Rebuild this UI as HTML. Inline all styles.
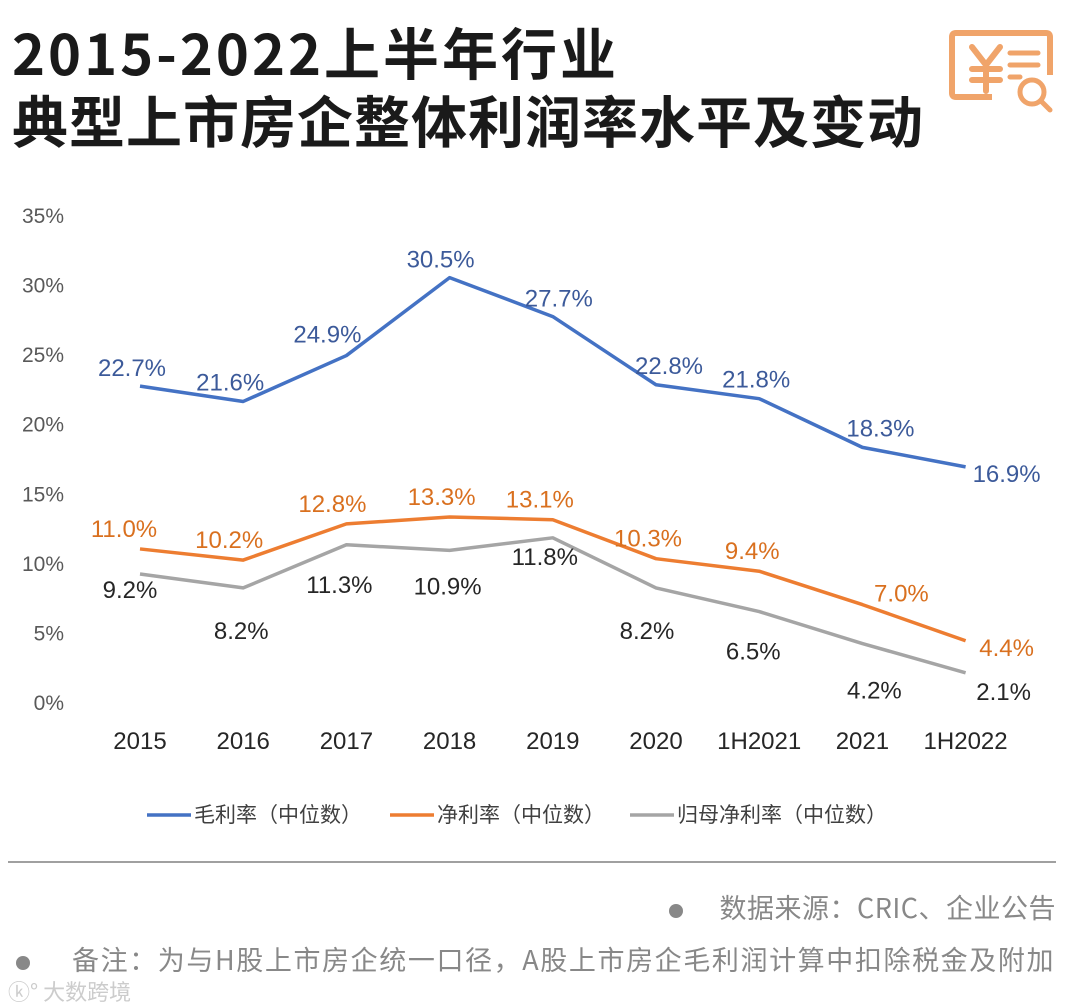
<!DOCTYPE html>
<html><head><meta charset="utf-8">
<style>
body{margin:0;background:#fff;width:1080px;height:1007px;overflow:hidden;font-family:"Liberation Sans","Noto Sans CJK SC",sans-serif;}
.title{position:absolute;left:12px;font-weight:bold;font-size:56px;letter-spacing:1px;color:#1a1a1a;font-family:"Noto Sans CJK SC","Liberation Sans",sans-serif;line-height:1;white-space:nowrap;}
</style></head><body>
<div class="title" style="top:24px;letter-spacing:3px">2015-2022上半年行业</div>
<div class="title" style="top:92px">典型上市房企整体利润率水平及变动</div>
<svg style="position:absolute;left:942px;top:25px" width="120" height="90" viewBox="0 0 120 90">
<path d="M50 72 H14 Q10 72 10 68 V12 Q10 8 14 8 H104 Q108 8 108 12 V50" fill="none" stroke="#f0a46a" stroke-width="6"/>
<path d="M30 22 L44 40 L58 22 M44 40 V66 M30 44 H58 M30 55 H58" fill="none" stroke="#f0a46a" stroke-width="6" stroke-linecap="round"/>
<path d="M68 28 H96 M68 40 H96 M68 52 H78" stroke="#f0a46a" stroke-width="5" stroke-linecap="round"/>
<circle cx="90" cy="67" r="12" fill="#fff" stroke="#f0a46a" stroke-width="5"/>
<path d="M99 76 L108 85" stroke="#f0a46a" stroke-width="5" stroke-linecap="round"/>
</svg>
<svg id="chart" style="position:absolute;left:0;top:0" width="1080" height="860"></svg>
<div style="position:absolute;left:8px;top:861px;width:1048px;height:2px;background:#a0a0a0"></div>
<div style="position:absolute;right:24px;top:891px;font-size:27px;letter-spacing:0.5px;color:#888;font-family:'Noto Sans CJK SC',sans-serif;line-height:1.2;white-space:nowrap"><span style="display:inline-block;width:14px;height:14px;border-radius:50%;background:#888;margin-right:36px;vertical-align:middle"></span>数据来源：CRIC、企业公告</div>
<div style="position:absolute;left:16px;top:943px;font-size:27px;letter-spacing:1.6px;color:#888;font-family:'Noto Sans CJK SC',sans-serif;line-height:1.2;white-space:nowrap"><span style="display:inline-block;width:14px;height:14px;border-radius:50%;background:#888;margin-right:42px;vertical-align:middle"></span>备注：为与H股上市房企统一口径，A股上市房企毛利润计算中扣除税金及附加</div>
<div style="position:absolute;left:8px;top:975px;font-size:22px;color:#ccc;font-family:'Noto Sans CJK SC',sans-serif">ⓚ° 大数跨境</div>
<script>
const categories=["2015","2016","2017","2018","2019","2020","1H2021","2021","1H2022"];
const grossMargin=[22.7,21.6,24.9,30.5,27.7,22.8,21.8,18.3,16.9];
const netMargin=[11.0,10.2,12.8,13.3,13.1,10.3,9.4,7.0,4.4];
const parentNetMargin=[9.2,8.2,11.3,10.9,11.8,8.2,6.5,4.2,2.1];
const yTicks=[0,5,10,15,20,25,30,35];
const NS="http://www.w3.org/2000/svg";
const svg=document.getElementById('chart');
const x=i=>140+i*103.2;
const y=v=>702-v*13.914;
function mk(t,a,txt){const e=document.createElementNS(NS,t);for(const k in a)e.setAttribute(k,a[k]);if(txt!=null)e.textContent=txt;svg.appendChild(e);return e;}
yTicks.forEach(v=>{const t=mk('text',{x:64,y:y(v)+8,'text-anchor':'end','font-size':21,fill:'#595959'},v+'%');

});
categories.forEach((c,i)=>{const t=mk('text',{x:x(i),y:749,'text-anchor':'middle','font-size':24,fill:'#262626'},c);

});
const series=[
 {d:grossMargin,c:'#4472c4',lc:'#3c5a9a',name:'gross-margin',off:[[-8,-18],[-13,-19],[-19,-21],[-9,-18],[6,-18],[13,-19],[-3,-19],[18,-19],[41,7]]},
 {d:netMargin,c:'#ed7d31',lc:'#d9701f',name:'net-margin',off:[[-16,-20],[-14,-20],[-14,-20],[-8,-20],[-13,-20],[-8,-20],[-7,-20],[39,-11],[41,7]]},
 {d:parentNetMargin,c:'#a5a5a5',lc:'#262626',name:'parent-net-margin',off:[[-10,16],[-2,43],[-7,40],[-2,36],[-8,19],[-9,43],[-6,40],[12,47],[38,19]]}
];
series.forEach(s=>{
 const p=mk('polyline',{points:s.d.map((v,i)=>x(i)+','+y(v)).join(' '),fill:'none',stroke:s.c,'stroke-width':3.5,'stroke-linejoin':'round'});
 
 
 s.d.forEach((v,i)=>{const t=mk('text',{x:x(i)+s.off[i][0],y:y(v)+s.off[i][1]+8,'text-anchor':'middle','font-size':24,fill:s.lc},v.toFixed(1)+'%');
 
 });
});
const leg=[[147,'#4472c4','毛利率（中位数）'],[390,'#ed7d31','净利率（中位数）'],[630,'#a5a5a5','归母净利率（中位数）']];
leg.forEach(l=>{const ln=mk('line',{x1:l[0],y1:815,x2:l[0]+44,y2:815,stroke:l[1],'stroke-width':3.5});


const t=mk('text',{x:l[0]+47,y:822,'font-size':21,fill:'#404040','font-family':'Noto Sans CJK SC,sans-serif'},l[2]);

});
</script>
</body></html>
